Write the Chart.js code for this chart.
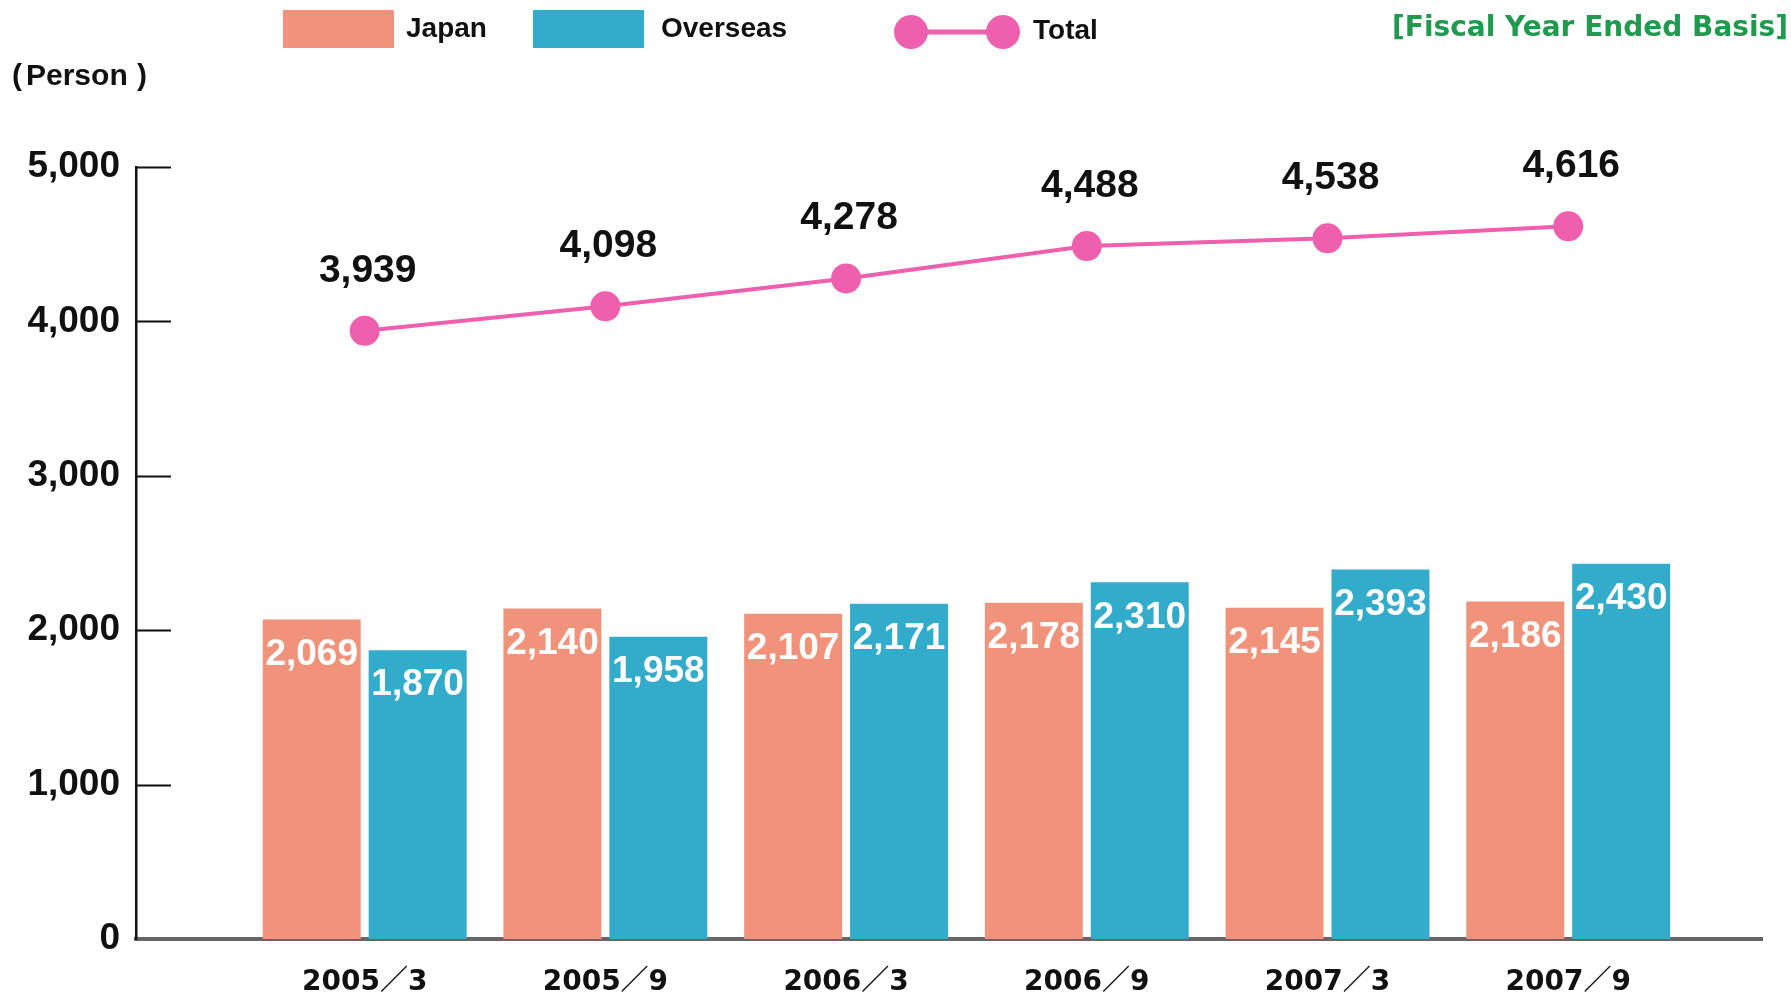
<!DOCTYPE html>
<html>
<head>
<meta charset="utf-8">
<title>Employees</title>
<script src="https://cdn.jsdelivr.net/npm/chart.js@4.4.1/dist/chart.umd.min.js"></script>
<style>
    html, body { margin: 0; padding: 0; background: #fff; }
    #wrap { width: 1791px; height: 999px; }
</style>
</head>
<body>
<div id="wrap"><canvas id="staffChart" width="1791" height="999"></canvas></div>
<script>
const periods = ['2005／3', '2005／9', '2006／3', '2006／9', '2007／3', '2007／9'];
const japan = [2069, 2140, 2107, 2178, 2145, 2186];
const overseas = [1870, 1958, 2171, 2310, 2393, 2430];
const totals = [3939, 4098, 4278, 4488, 4538, 4616];
const yTicks = [0, 1000, 2000, 3000, 4000, 5000];

const JAPAN_COLOR = '#F1937B';
const OVERSEAS_COLOR = '#33ABCB';
const TOTAL_COLOR = '#EE5FAE';
const SANS = "'Liberation Sans', Arial, 'Noto Sans CJK JP', sans-serif";
const WIDE = "'DejaVu Sans', 'Noto Sans CJK JP', sans-serif";

const fmt = v => v.toLocaleString('en-US');

// value labels, tick marks, legend and header texts
const decorPlugin = {
    id: 'decor',
    afterDatasetsDraw(chart) {
        const c = chart.ctx;
        c.save();
        c.textAlign = 'center';
        c.textBaseline = 'middle';

        // white labels inside the bars
        c.fillStyle = '#fff';
        c.font = `bold 37px ${SANS}`;
        [0, 1].forEach(i => {
            const values = chart.data.datasets[i].data;
            chart.getDatasetMeta(i).data.forEach((bar, j) => {
                c.fillText(fmt(values[j].y), bar.x, bar.y + 35);
            });
        });

        // totals above the line
        c.fillStyle = '#111';
        c.font = `bold 39px ${SANS}`;
        chart.getDatasetMeta(2).data.forEach((pt, j) => {
            c.fillText(fmt(totals[j]), pt.x + 3, pt.y - 60);
        });
        c.restore();
    },
    afterDraw(chart) {
        const c = chart.ctx;
        const area = chart.chartArea;
        const yScale = chart.scales.y;
        c.save();

        // y tick marks point into the plot
        c.strokeStyle = '#111';
        c.lineWidth = 2;
        yTicks.slice(1).forEach(v => {
            const py = Math.round(yScale.getPixelForValue(v)) + 0.5;
            c.beginPath();
            c.moveTo(area.left, py);
            c.lineTo(area.left + 35, py);
            c.stroke();
        });

        // legend
        c.textBaseline = 'middle';
        c.textAlign = 'left';
        c.fillStyle = JAPAN_COLOR;
        c.fillRect(283, 10, 111, 38);
        c.fillStyle = OVERSEAS_COLOR;
        c.fillRect(533, 10, 111, 38);
        c.strokeStyle = TOTAL_COLOR;
        c.lineWidth = 5;
        c.beginPath();
        c.moveTo(911, 32);
        c.lineTo(1003, 32);
        c.stroke();
        c.fillStyle = TOTAL_COLOR;
        [911, 1003].forEach(x => {
            c.beginPath();
            c.arc(x, 32, 17, 0, Math.PI * 2);
            c.fill();
        });
        c.fillStyle = '#111';
        c.font = `bold 28px ${SANS}`;
        c.fillText('Japan', 406, 29);
        c.fillText('Overseas', 661, 29);
        c.fillText('Total', 1033, 31);

        // unit label
        c.font = `bold 30px ${SANS}`;
        c.fillText('(', 12, 77);
        c.fillText('Person', 26, 77);
        c.textAlign = 'right';
        c.fillText(')', 147, 77);

        // basis note
        c.fillStyle = '#1F9A4F';
        c.font = `bold 28px ${WIDE}`;
        c.fillText('[Fiscal Year Ended Basis]', 1788, 29);
        c.restore();
    }
};

const toPoints = arr => arr.map((v, i) => ({ x: i, y: v }));

const ctx = document.getElementById('staffChart').getContext('2d');

new Chart(ctx, {
    data: {
        datasets: [
            {
                type: 'bar',
                label: 'Japan',
                data: toPoints(japan),
                backgroundColor: JAPAN_COLOR,
                categoryPercentage: 0.88,
                barPercentage: 0.925,
                order: 1
            },
            {
                type: 'bar',
                label: 'Overseas',
                data: toPoints(overseas),
                backgroundColor: OVERSEAS_COLOR,
                categoryPercentage: 0.88,
                barPercentage: 0.925,
                order: 1
            },
            {
                type: 'line',
                label: 'Total',
                data: toPoints(totals),
                borderColor: TOTAL_COLOR,
                borderWidth: 4,
                pointRadius: 15,
                pointBackgroundColor: TOTAL_COLOR,
                pointBorderWidth: 0,
                order: 0
            }
        ]
    },
    options: {
        responsive: false,
        animation: false,
        layout: { padding: { top: 167, right: 29, bottom: 0, left: 0 } },
        plugins: {
            legend: { display: false },
            tooltip: { enabled: false }
        },
        scales: {
            x: {
                type: 'linear',
                offset: false,
                min: -0.95,
                max: 5.805,
                afterBuildTicks: scale => {
                    scale.ticks = periods.map((p, i) => ({ value: i }));
                },
                afterFit: scale => { scale.height = 60; },
                grid: { display: false, drawTicks: false, offset: false },
                border: { color: '#666', width: 4 },
                ticks: {
                    padding: 27,
                    color: '#111',
                    font: { family: WIDE, size: 28, weight: 'bold' },
                    callback: v => periods[v]
                }
            },
            y: {
                min: 0,
                max: 5000,
                afterBuildTicks: scale => {
                    scale.ticks = yTicks.map(v => ({ value: v }));
                },
                afterFit: scale => { scale.width = 136; },
                grid: { display: false, drawTicks: false },
                border: { color: '#111', width: 2.5 },
                ticks: {
                    padding: 16,
                    color: '#111',
                    font: { family: SANS, size: 37, weight: 'bold' },
                    callback: v => fmt(v)
                }
            }
        }
    },
    plugins: [decorPlugin]
});
</script>
</body>
</html>
